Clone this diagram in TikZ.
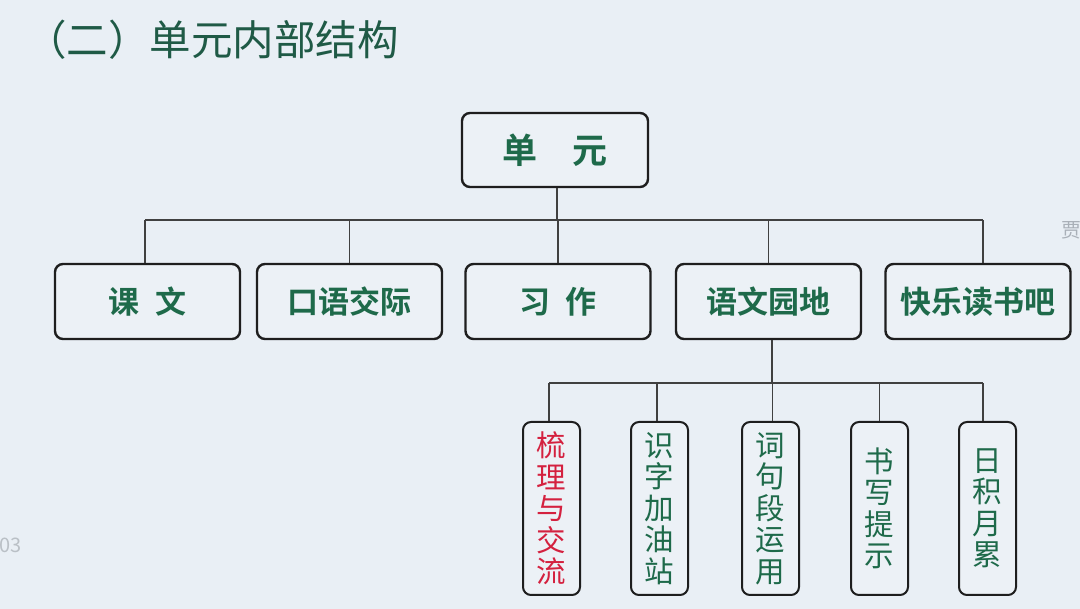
\documentclass[tikz,border=0pt]{standalone}
\usepackage{fontspec}
\newfontfamily\cjk{Noto Sans CJK SC}
\newfontfamily\cjkb{Noto Sans CJK SC}[BoldFont={Noto Sans CJK SC Bold}]
\definecolor{bgc}{HTML}{E9EFF5}
\definecolor{boxfill}{HTML}{ECF1F6}
\definecolor{gtext}{HTML}{1E6A4A}
\definecolor{ttext}{HTML}{1F5A46}
\definecolor{rtext}{HTML}{D4213F}
\definecolor{edge}{HTML}{1E1E1E}
\definecolor{faint}{HTML}{A9B0B8}
\tikzset{
  x=1pt, y=-1pt,
  tbox/.style={draw=edge, line width=2.4pt, rounded corners=8pt, fill=boxfill,
    text=gtext, inner sep=0pt},
  bigbox/.style={tbox, minimum width=185pt, minimum height=75pt,
    font={\cjkb\bfseries\fontsize{31}{33}\selectfont}},
  vbox/.style={tbox, line width=2pt, minimum width=57pt, minimum height=173pt,
    align=center, font={\cjk\fontsize{29.5}{31.5}\selectfont}},
  conn/.style={draw=edge!85, line width=1.4pt}
}
\begin{document}
\begin{tikzpicture}
\useasboundingbox (0,0) rectangle (1080,609);
\fill[bgc] (0,0) rectangle (1080,609);
\clip (0,0) rectangle (1080,609);

\node[anchor=west, inner sep=0pt, text=ttext, font={\cjk\fontsize{41.5}{44}\selectfont}] (title) at (25,40) {（二）单元内部结构};

\node[bigbox, minimum width=186pt, minimum height=74pt, font={\cjkb\bfseries\fontsize{35}{37}\selectfont}] (top) at (555,150) {单\hspace{1em}元};

\node[bigbox] (a1) at (147.5,301.5) {课\hspace{0.5em}文};
\node[bigbox] (a2) at (349.5,301.5) {口语交际};
\node[bigbox] (a3) at (558,301.5) {习\hspace{0.5em}作};
\node[bigbox] (a4) at (768.5,301.5) {语文园地};
\node[bigbox] (a5) at (978,301.5) {快乐读书吧};

\node[vbox, text=rtext] (b1) at (551.5,508.5) {梳\\理\\与\\交\\流};
\node[vbox] (b2) at (659.5,508.5) {识\\字\\加\\油\\站};
\node[vbox] (b3) at (770.5,508.5) {词\\句\\段\\运\\用};
\node[vbox] (b4) at (879.5,508.5) {书\\写\\提\\示};
\node[vbox] (b5) at (987.5,508.5) {日\\积\\月\\累};

\coordinate (bus1) at (557,220);
\coordinate (bus2) at (772,383);

% level 1 -> level 2
\draw[conn] ([xshift=2pt]top.south) -- ([xshift=2pt]top.south |- bus1);
\draw[conn] ([xshift=-2.5pt]a1.north |- bus1) -- ([xshift=5pt]a5.north |- bus1);
\draw[conn] ([xshift=-2.5pt]a1.north) -- ([xshift=-2.5pt]a1.north |- bus1);
\draw[conn] (a2.north) -- (a2.north |- bus1);
\draw[conn] (a3.north) -- (a3.north |- bus1);
\draw[conn] (a4.north) -- (a4.north |- bus1);
\draw[conn] ([xshift=5pt]a5.north) -- ([xshift=5pt]a5.north |- bus1);

% level 2 -> level 3
\draw[conn] ([xshift=3.5pt]a4.south) -- ([xshift=3.5pt]a4.south |- bus2);
\draw[conn] ([xshift=-2.5pt]b1.north |- bus2) -- ([xshift=-4.5pt]b5.north |- bus2);
\draw[conn] ([xshift=-2.5pt]b1.north) -- ([xshift=-2.5pt]b1.north |- bus2);
\draw[conn] ([xshift=-2.5pt]b2.north) -- ([xshift=-2.5pt]b2.north |- bus2);
\draw[conn] ([xshift=2pt]b3.north) -- ([xshift=2pt]b3.north |- bus2);
\draw[conn] (b4.north) -- (b4.north |- bus2);
\draw[conn] ([xshift=-4.5pt]b5.north) -- ([xshift=-4.5pt]b5.north |- bus2);

% faint edge marks
\node[anchor=west, text=faint, font={\cjk\fontsize{20}{22}\selectfont}] (mark1) at (1058,230) {贾};
\node[anchor=east, text=faint!80, font={\cjk\fontsize{20}{22}\selectfont}] (mark2) at (25,545) {03};
\end{tikzpicture}
\end{document}
